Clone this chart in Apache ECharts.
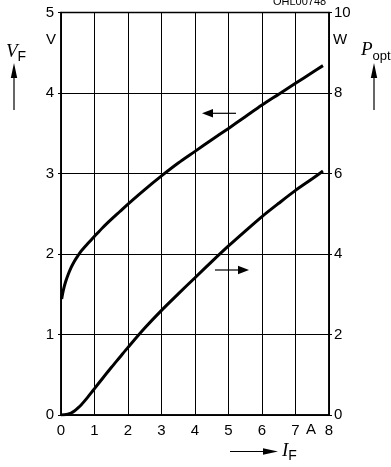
<!DOCTYPE html>
<html>
<head>
<meta charset="utf-8">
<script src="https://cdn.jsdelivr.net/npm/echarts@6/dist/echarts.min.js"></script>
<style>html,body{margin:0;padding:0;background:#fff}#c{width:391px;height:467px}</style>
</head>
<body>
<div id="c"></div>
<script>
// Forward voltage V_F (V) vs forward current I_F (A)
const vfCurve = [[0.02,1.44],[0.05,1.51],[0.1,1.60],[0.15,1.67],[0.2,1.73],[0.3,1.83],[0.4,1.91],[0.5,1.975],[0.6,2.035],[0.7,2.085],[0.8,2.13],[0.9,2.175],[1.0,2.22],[1.25,2.33],[1.5,2.43],[1.75,2.525],[2,2.62],[2.5,2.80],[3,2.97],[3.5,3.13],[4,3.275],[4.5,3.42],[5,3.56],[5.5,3.705],[6,3.85],[6.5,3.985],[7,4.12],[7.5,4.255],[7.82,4.34]];
// Optical power P_opt (W) vs forward current I_F (A)
const poptCurve = [[0,0],[0.1,0.005],[0.2,0.02],[0.3,0.05],[0.4,0.1],[0.5,0.17],[0.6,0.25],[0.7,0.345],[0.8,0.445],[0.9,0.55],[1.0,0.655],[1.25,0.92],[1.5,1.18],[1.75,1.43],[2,1.68],[2.5,2.16],[3,2.6],[3.5,3.01],[4,3.41],[4.5,3.81],[5,4.2],[5.5,4.57],[6,4.93],[6.5,5.26],[7,5.58],[7.5,5.87],[7.82,6.06]];
const xTicks = ['0','1','2','3','4','5','6','7','8'];
const yLeftTicks = ['0','1','2','3','4','5'];
const yRightTicks = ['0','2','4','6','8','10'];

const chart = echarts.init(document.getElementById('c'), null, {renderer:'canvas'});
const F = 'Liberation Sans, Arial, sans-serif';
const black = '#000';
function upArrow(x, y1, y2){
  return [
    {type:'line', shape:{x1:x,y1:y1,x2:x,y2:y2+12}, style:{stroke:black,lineWidth:1.2}},
    {type:'polygon', shape:{points:[[x,y2],[x-3.2,y2+15],[x+3.2,y2+15]]}, style:{fill:black}}
  ];
}
chart.setOption({
  animation:false,
  backgroundColor:'#fff',
  grid:{left:61,top:12.5,width:268,height:402.5,show:true,borderColor:black,borderWidth:1.5},
  xAxis:{type:'value',min:0,max:8,interval:1,
    axisLine:{show:true,lineStyle:{color:black,width:1.5}},
    axisTick:{show:false},
    axisLabel:{color:black,fontFamily:F,fontSize:15,margin:8,
      formatter:v=>xTicks[v]},
    splitLine:{show:true,lineStyle:{color:black,width:1}}},
  yAxis:[
    {type:'value',min:0,max:5,interval:1,position:'left',
      axisLine:{show:true,lineStyle:{color:black,width:1.5}},
      axisTick:{show:true,length:3,lineStyle:{color:black}},
      axisLabel:{color:black,fontFamily:F,fontSize:15,margin:7,formatter:v=>yLeftTicks[v]},
      splitLine:{show:true,lineStyle:{color:black,width:1}}},
    {type:'value',min:0,max:10,interval:2,position:'right',
      axisLine:{show:true,lineStyle:{color:black,width:1.5}},
      axisTick:{show:true,length:3,lineStyle:{color:black}},
      axisLabel:{color:black,fontFamily:F,fontSize:15,margin:5,formatter:v=>yRightTicks[v/2]},
      splitLine:{show:false}}
  ],
  series:[
    {type:'line',name:'VF',data:vfCurve,yAxisIndex:0,smooth:0.3,showSymbol:false,
      lineStyle:{color:black,width:3}},
    {type:'line',name:'Popt',data:poptCurve,yAxisIndex:1,smooth:0.3,showSymbol:false,
      lineStyle:{color:black,width:3}}
  ],
  graphic:[
    {type:'text',left:273,top:-4,style:{text:'OHL00748',font:'11px '+F,fill:black}},
    {type:'text',x:46,y:32,style:{text:'V',font:'15px '+F,fill:black}},
    {type:'text',x:333,y:32,style:{text:'W',font:'15px '+F,fill:black}},
    {type:'text',x:311,y:430,style:{text:'A',font:'15px '+F,fill:black,align:'center',verticalAlign:'middle'}},
    {type:'text',x:6,y:42,style:{text:'{a|V}{b|F}',rich:{
      a:{font:'italic 19px Liberation Serif, serif',fill:black,verticalAlign:'bottom'},
      b:{font:'14px '+F,fill:black,verticalAlign:'bottom',padding:[0,0,-3,0]}}}},
    {type:'text',x:361,y:40,style:{text:'{a|P}{b|opt}',rich:{
      a:{font:'italic 19px Liberation Serif, serif',fill:black,verticalAlign:'bottom'},
      b:{font:'13px '+F,fill:black,verticalAlign:'bottom',padding:[0,0,-4,0]}}}},
    {type:'text',x:282,y:441,style:{text:'{a|I}{b|F}',rich:{
      a:{font:'italic 19px Liberation Serif, serif',fill:black,verticalAlign:'bottom'},
      b:{font:'14px '+F,fill:black,verticalAlign:'bottom',padding:[0,0,-3,0]}}}},
    ...upArrow(14,110,63),
    ...upArrow(374,110,63),
    {type:'line',shape:{x1:230,y1:451.5,x2:266,y2:451.5},style:{stroke:black,lineWidth:1.2}},
    {type:'polygon',shape:{points:[[278,451.5],[263,448.3],[263,454.7]]},style:{fill:black}},
    {type:'line',shape:{x1:212,y1:113.3,x2:236,y2:113.3},style:{stroke:black,lineWidth:1.2}},
    {type:'polygon',shape:{points:[[202,113.3],[213,109],[213,117.6]]},style:{fill:black}},
    {type:'line',shape:{x1:215,y1:270,x2:239,y2:270},style:{stroke:black,lineWidth:1.2}},
    {type:'polygon',shape:{points:[[249,270],[238,265.7],[238,274.3]]},style:{fill:black}}
  ]
});
</script>
</body>
</html>
